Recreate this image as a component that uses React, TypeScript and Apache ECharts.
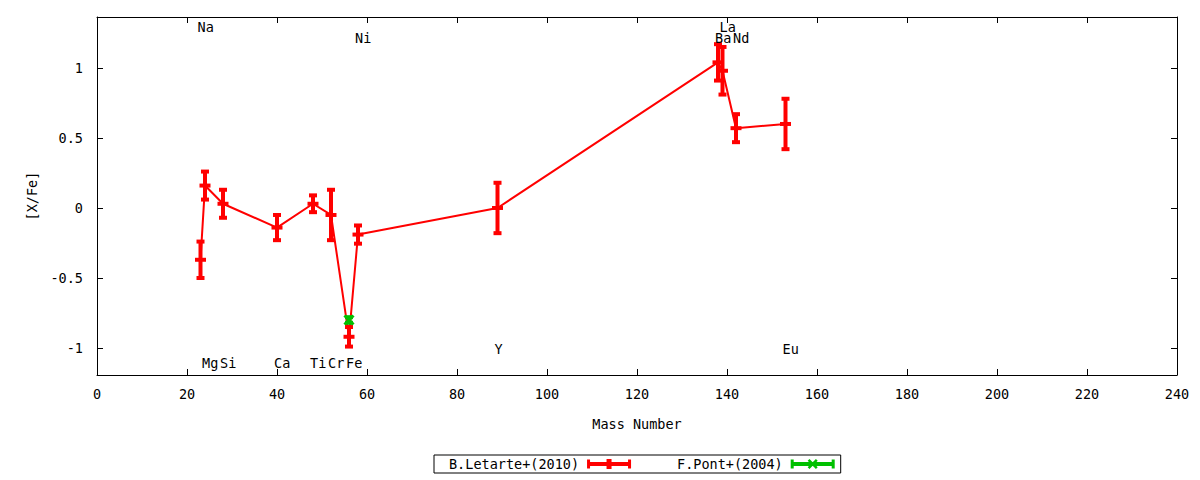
import React, { useEffect, useRef } from "react";
import * as echarts from "echarts";

// B.Letarte+(2010)
const letarteElements = ["Na", "Mg", "Si", "Ca", "Ti", "Cr", "Fe", "Ni", "Y", "Ba", "La", "Nd", "Eu"];
const letarteMass = [23, 24, 28, 40, 48, 52, 56, 58, 89, 138, 139, 142, 153];
const letarteXFe = [-0.37, 0.16, 0.03, -0.14, 0.03, -0.05, -0.92, -0.19, 0.0, 1.04, 0.98, 0.57, 0.6];
const letarteErr = [0.13, 0.1, 0.1, 0.09, 0.06, 0.18, 0.07, 0.065, 0.18, 0.13, 0.17, 0.1, 0.18];

// F.Pont+(2004)
const pontMass = [56];
const pontXFe = [-0.8];
const pontErr = [0.02];

// element labels
const labelNames = ["Na", "Mg", "Si", "Ca", "Ti", "Cr", "Fe", "Ni", "Y", "Ba", "La", "Nd", "Eu"];
const labelMass = [23, 24, 28, 40, 48, 52, 56, 58, 89, 138, 139, 142, 153];
const labelY = [1.3, -1.1, -1.1, -1.1, -1.1, -1.1, -1.1, 1.22, -1.0, 1.22, 1.3, 1.22, -1.0];

// axes
const xMin = 0;
const xMax = 240;
const xInterval = 20;
const yMin = -1.193;
const yMax = 1.364;
const yTickValues = [-1, -0.5, 0, 0.5, 1];

const seriesNames = ["B.Letarte+(2010)", "F.Pont+(2004)"];
const RED = "#ff0000";
const GREEN = "#00c000";

const FONT = "DejaVu Sans Mono";
const FS = 13.5;

const redIcon =
  "path://M0,0.5H3V3H19.5V0H24.5V3H41V0.5H44V9.5H41V7H24.5V10H19.5V7H3V9.5H0Z";
const greenIcon =
  "path://M0,0.5H3V3H41V0.5H44V9.5H41V7H3V9.5H0Z M17,1.8L18.8,0L22,3.2L25.2,0L27,1.8L23.8,5L27,8.2L25.2,10L22,6.8L18.8,10L17,8.2L20.2,5Z";

function makeErrRender(color: string, center: "plus" | "cross") {
  return (params: any, api: any) => {
    const x = api.value(0);
    const y = api.value(1);
    const e = api.value(2);
    const p = api.coord([x, y]);
    const t = api.coord([x, y + e]);
    const b = api.coord([x, y - e]);
    const children: any[] = [
      { type: "rect", shape: { x: p[0] - 2, y: t[1], width: 4, height: b[1] - t[1] }, style: { fill: color } },
      { type: "rect", shape: { x: p[0] - 4, y: t[1] - 2, width: 8, height: 4 }, style: { fill: color } },
      { type: "rect", shape: { x: p[0] - 4, y: b[1] - 2, width: 8, height: 4 }, style: { fill: color } },
    ];
    if (center === "plus") {
      children.push({ type: "rect", shape: { x: p[0] - 5.5, y: p[1] - 2, width: 11, height: 4 }, style: { fill: color } });
    } else {
      children.push({ type: "line", shape: { x1: p[0] - 4.5, y1: p[1] - 4.5, x2: p[0] + 4.5, y2: p[1] + 4.5 }, style: { stroke: color, lineWidth: 3 } });
      children.push({ type: "line", shape: { x1: p[0] - 4.5, y1: p[1] + 4.5, x2: p[0] + 4.5, y2: p[1] - 4.5 }, style: { stroke: color, lineWidth: 3 } });
    }
    return { type: "group", children };
  };
}

export default function App() {
  const ref = useRef<HTMLDivElement>(null);
  useEffect(() => {
    const chart = echarts.init(ref.current!, null, { renderer: "svg" });
    const letarteData = letarteMass.map((m, i) => [m, letarteXFe[i], letarteErr[i]]);
    const pontData = pontMass.map((m, i) => [m, pontXFe[i], pontErr[i]]);
    const labelData = labelMass.map((m, i) => [m, labelY[i], labelNames[i]]);

    const axisCommon = {
      type: "value" as const,
      axisLine: { show: true, onZero: false, lineStyle: { color: "#000", width: 1 } },
      splitLine: { show: false },
    };

    const option: any = {
      animation: false,
      backgroundColor: "#fff",
      grid: { left: 97, right: 23, top: 17, bottom: 105, show: false },
      legend: {
        data: [
          { name: seriesNames[0], icon: redIcon },
          { name: seriesNames[1], icon: greenIcon },
        ],
        left: 434,
        top: 455,
        orient: "horizontal",
        align: "right",
        itemWidth: 44,
        itemHeight: 10,
        itemGap: 46,
        padding: [2, 6, 2, 15],
        borderColor: "#000",
        borderWidth: 1,
        borderRadius: 0,
        selectedMode: false,
        textStyle: { color: "#000", fontFamily: FONT, fontSize: FS, padding: [0, 3, 0, 0] },
      },
      xAxis: [
        {
          ...axisCommon,
          min: xMin,
          max: xMax,
          interval: xInterval,
          position: "bottom",
          axisTick: { show: true, inside: true, length: 6, lineStyle: { color: "#000" } },
          axisLabel: { color: "#000", fontFamily: FONT, fontSize: FS, margin: 12 },
          name: "Mass Number",
          nameLocation: "middle",
          nameGap: 42,
          nameTextStyle: { color: "#000", fontFamily: FONT, fontSize: FS },
        },
        {
          ...axisCommon,
          min: xMin,
          max: xMax,
          interval: xInterval,
          position: "top",
          axisTick: { show: true, inside: true, length: 6, lineStyle: { color: "#000" } },
          axisLabel: { show: false },
        },
      ],
      yAxis: [
        {
          ...axisCommon,
          min: yMin,
          max: yMax,
          position: "left",
          axisTick: { show: true, inside: true, length: 6, lineStyle: { color: "#000" }, customValues: yTickValues },
          axisLabel: { color: "#000", fontFamily: FONT, fontSize: FS, margin: 14, customValues: yTickValues },
          name: "[X/Fe]",
          nameLocation: "middle",
          nameGap: 58,
          nameRotate: 90,
          nameTextStyle: { color: "#000", fontFamily: FONT, fontSize: FS },
        },
        {
          ...axisCommon,
          min: yMin,
          max: yMax,
          position: "right",
          axisTick: { show: true, inside: true, length: 6, lineStyle: { color: "#000" }, customValues: yTickValues },
          axisLabel: { show: false, customValues: yTickValues },
        },
      ],
      series: [
        {
          name: "Letarte connection",
          type: "line",
          xAxisIndex: 0,
          yAxisIndex: 0,
          data: letarteData.map((d) => [d[0], d[1]]),
          symbol: "none",
          lineStyle: { color: RED, width: 2 },
          itemStyle: { color: RED },
          z: 2,
        },
        {
          name: seriesNames[0],
          type: "custom",
          xAxisIndex: 0,
          yAxisIndex: 0,
          data: letarteData,
          encode: { x: 0, y: 1 },
          renderItem: makeErrRender(RED, "plus"),
          itemStyle: { color: RED },
          z: 3,
        },
        {
          name: seriesNames[1],
          type: "custom",
          xAxisIndex: 0,
          yAxisIndex: 0,
          data: pontData,
          encode: { x: 0, y: 1 },
          renderItem: makeErrRender(GREEN, "cross"),
          itemStyle: { color: GREEN },
          z: 4,
        },
        {
          name: "Element labels",
          type: "custom",
          xAxisIndex: 0,
          yAxisIndex: 0,
          data: labelData,
          encode: { x: 0, y: 1 },
          renderItem: (params: any, api: any) => {
            const p = api.coord([api.value(0), api.value(1)]);
            return {
              type: "text",
              x: p[0] - 3,
              y: p[1] + 1,
              style: {
                text: labelNames[params.dataIndex],
                fill: "#000",
                font: `${FS}px "${FONT}"`,
                textAlign: "left",
                textVerticalAlign: "middle",
              },
            };
          },
          z: 5,
        },
      ],
    };
    chart.setOption(option);
    return () => chart.dispose();
  }, []);
  return <div ref={ref} style={{ position: "absolute", left: 0, top: 0, width: 1200, height: 480 }} />;
}
